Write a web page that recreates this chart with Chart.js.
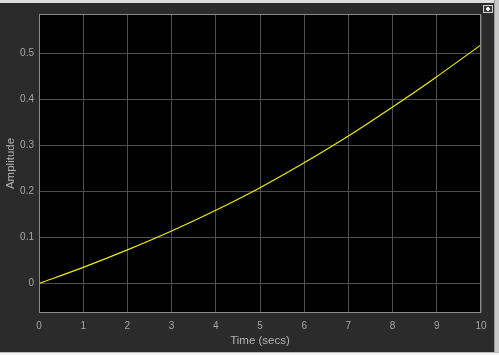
<!DOCTYPE html>
<html>
<head>
<meta charset="utf-8">
<script src="https://cdn.jsdelivr.net/npm/chart.js@4"></script>
<style>
  html, body { margin:0; padding:0; }
  body { width:499px; height:355px; background:#d9d9d9; position:relative; overflow:hidden; }
  .topband { position:absolute; left:0; top:0; width:499px; height:3px; background:#dcdcdc; }
  .panel { position:absolute; left:0; top:3px; width:494px; height:349px; background:#2b2b2b; }
  .rightstrip { position:absolute; left:494px; top:0; width:5px; height:355px; background:#c8c8c8; border-left:1px solid #9a9a9a; box-sizing:border-box; }
  .bottomband { position:absolute; left:0; top:352px; width:499px; height:3px; background:#f2f2f2; border-top:1px solid #bdbdbd; box-sizing:border-box; }
  .btn { position:absolute; left:483px; top:5px; width:10px; height:8px; border:1px solid #d0d0d0; box-sizing:border-box; background:#3a3a3a; }
  .btn i { position:absolute; left:2px; top:2px; width:4px; height:2px; background:#f0f0f0; }
  .btn b { position:absolute; left:3px; top:1px; width:2px; height:4px; background:#f0f0f0; }
  canvas { position:absolute; left:0; top:3px; }
</style>
</head>
<body>
<div class="topband"></div>
<div class="panel"></div>
<div class="rightstrip"></div>
<div class="bottomband"></div>
<div class="btn"><i></i><b></b></div>
<canvas id="scope" width="494" height="349"></canvas>
<script>
    // ===== データ =====
    var timeSecs  = [0, 1, 2, 3, 4, 5, 6, 7, 8, 9, 10];
    var amplitude = [0, 0.035, 0.073, 0.114, 0.159, 0.208, 0.262, 0.320, 0.383, 0.449, 0.518];
    var xTicks = [0, 1, 2, 3, 4, 5, 6, 7, 8, 9, 10];
    var yTicks = [0, 0.1, 0.2, 0.3, 0.4, 0.5];

    var points = [];
    for (var i = 0; i < timeSecs.length; i++) {
        points.push({x: timeSecs[i], y: amplitude[i]});
    }

    // black plot area + frame on all four sides
    var frame = {
        id: 'frame',
        beforeDraw: function(chart) {
            var a = chart.chartArea, ctx = chart.ctx;
            ctx.save();
            ctx.fillStyle = '#000000';
            ctx.fillRect(a.left, a.top, a.right - a.left, a.bottom - a.top);
            ctx.restore();
        },
        afterDatasetsDraw: function(chart) {
            var a = chart.chartArea, ctx = chart.ctx;
            ctx.save();
            ctx.strokeStyle = '#8a8a8a';
            ctx.lineWidth = 1;
            ctx.strokeRect(Math.round(a.left) + 0.5, Math.round(a.top) + 0.5,
                Math.round(a.right - a.left) - 1, Math.round(a.bottom - a.top) - 1);
            ctx.restore();
        }
    };

    var ctx = document.getElementById('scope');
    var scopeChart = new Chart(ctx, {
        type: 'line',
        data: {
            datasets: [{
                data: points,
                borderColor: '#eeee00',
                borderWidth: 1.2,
                pointRadius: 0,
                fill: false,
                tension: 0.3
            }]
        },
        options: {
            responsive: false,
            animation: false,
            events: [],
            layout: { padding: { top: 8, right: 13, left: 0, bottom: 0 } },
            plugins: { legend: { display: false }, tooltip: { enabled: false } },
            scales: {
                x: {
                    type: 'linear',
                    min: 0, max: 10,
                    afterBuildTicks: function(s) { s.ticks = xTicks.map(function(v){ return {value: v}; }); },
                    afterFit: function(s) { s.height = 39; },
                    grid: { color: '#4e4e4e', drawTicks: false },
                    border: { display: false },
                    ticks: { color: '#a6a6a6', padding: 7, font: { family: 'Liberation Sans', size: 10 } },
                    title: { display: true, text: 'Time (secs)', color: '#b4b4b4', padding: { top: 0, bottom: 4 },
                             font: { family: 'Liberation Sans', size: 11.5 } }
                },
                y: {
                    min: -0.064, max: 0.585,
                    afterBuildTicks: function(s) { s.ticks = yTicks.map(function(v){ return {value: v}; }); },
                    afterFit: function(s) { s.width = 39; },
                    grid: { color: '#4e4e4e', drawTicks: false },
                    border: { display: false },
                    ticks: { color: '#a6a6a6', padding: 5, font: { family: 'Liberation Sans', size: 10 } },
                    title: { display: true, text: 'Amplitude', color: '#b4b4b4', padding: { top: 4, bottom: 0 },
                             font: { family: 'Liberation Sans', size: 11.5 } }
                }
            }
        },
        plugins: [frame]
    });
</script>
</body>
</html>
